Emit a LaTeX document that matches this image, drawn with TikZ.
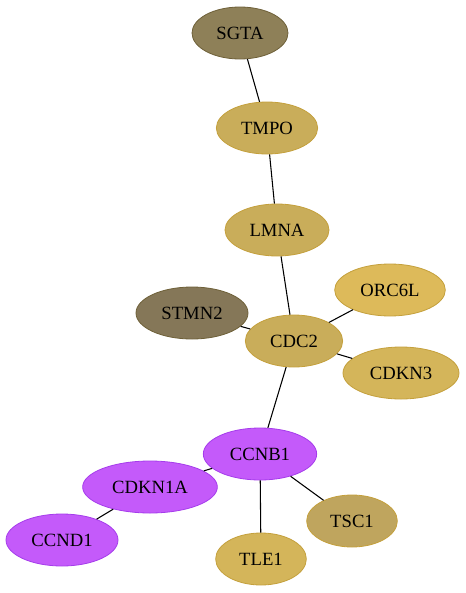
\documentclass[tikz,border=0pt]{standalone}
\usepackage{fontspec}
\setmainfont{Liberation Serif}
\definecolor{darkolive}{RGB}{142, 128, 88}
\definecolor{darkolivebd}{RGB}{110, 96, 56}
\definecolor{greyolive}{RGB}{133, 119, 88}
\definecolor{gold1}{RGB}{201, 173, 90}
\definecolor{gold2}{RGB}{221, 186, 90}
\definecolor{gold3}{RGB}{212, 181, 90}
\definecolor{khaki1}{RGB}{191, 165, 94}
\definecolor{goldbd}{RGB}{196, 160, 60}
\definecolor{purp}{RGB}{196, 90, 250}
\definecolor{purpbd}{RGB}{165, 60, 235}
\usepackage{tikz}
\usetikzlibrary{shapes.geometric}

\begin{document}
\begin{tikzpicture}[x=0.75pt, y=-0.75pt,
  gene/.style={ellipse, draw=goldbd, line width=0.6pt, inner sep=0pt, minimum height=39pt, font=\fontsize{14}{16}\selectfont},
  edge/.style={draw=black, line width=0.8pt}]
  \useasboundingbox (0, 0) rectangle (465, 593);

  % top chain
  \node[gene, fill=darkolive, draw=darkolivebd, minimum width=72pt] (sgta) at (240, 33) {SGTA};
  \node[gene, fill=gold1, minimum width=76pt] (tmpo) at (267, 128) {TMPO};
  \node[gene, fill=gold1, minimum width=78pt] (lmna) at (277, 230) {LMNA};

  % hub
  \node[gene, fill=gold1, minimum width=73pt] (cdc2) at (294, 341) {CDC2};
  \node[gene, fill=greyolive, draw=darkolivebd, minimum width=84pt] (stmn2) at (192, 313) {STMN2};
  \node[gene, fill=gold2, minimum width=83pt] (orc6l) at (390, 290) {ORC6L};
  \node[gene, fill=gold3, minimum width=87pt] (cdkn3) at (401, 373) {CDKN3};

  % purple cluster
  \node[gene, fill=purp, draw=purpbd, minimum width=85pt] (ccnb1) at (260, 454) {CCNB1};
  \node[gene, fill=purp, draw=purpbd, minimum width=101pt] (cdkn1a) at (150, 487) {CDKN1A};
  \node[gene, fill=purp, draw=purpbd, minimum width=84pt] (ccnd1) at (62, 540) {CCND1};
  \node[gene, fill=khaki1, minimum width=68pt] (tsc1) at (352, 521) {TSC1};
  \node[gene, fill=gold3, minimum width=68pt] (tle1) at (261, 559) {TLE1};

  % edges
  \draw[edge] (sgta) -- (tmpo);
  \draw[edge] (tmpo) -- (lmna);
  \draw[edge] (lmna) -- (cdc2);
  \draw[edge] (cdc2) -- (stmn2);
  \draw[edge] (cdc2) -- (orc6l);
  \draw[edge] (cdc2) -- (cdkn3);
  \draw[edge] (cdc2) -- (ccnb1);
  \draw[edge] (ccnb1) -- (cdkn1a);
  \draw[edge] (ccnb1) -- (tsc1);
  \draw[edge] (ccnb1) -- (tle1);
  \draw[edge] (cdkn1a) -- (ccnd1);
\end{tikzpicture}
\end{document}
